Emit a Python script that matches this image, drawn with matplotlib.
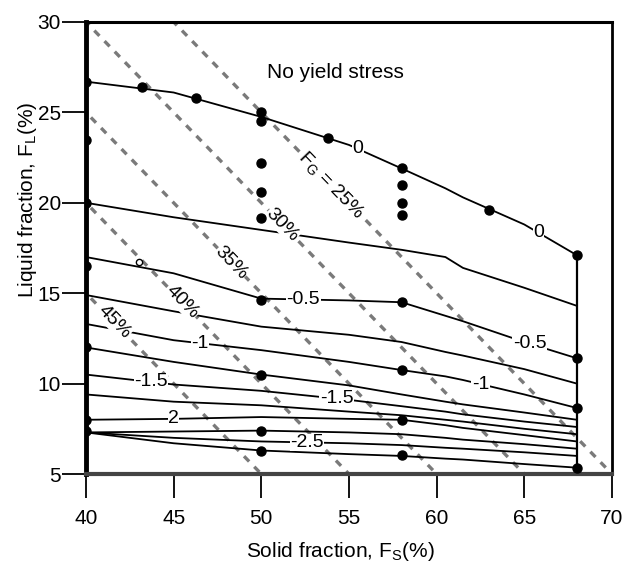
import matplotlib.pyplot as plt
import numpy as np

plt.rcParams['font.family'] = ['Liberation Sans', 'DejaVu Sans']
plt.rcParams['mathtext.fontset'] = 'custom'
plt.rcParams['mathtext.rm'] = 'Liberation Sans'
plt.rcParams['mathtext.it'] = 'Liberation Sans'

# solid fraction breakpoints shared by every iso-stress line
fs_grid = [40, 45, 50, 55, 58, 60.5, 61.5, 65, 68]

# liquid fraction of each iso-line at those breakpoints, top to bottom
fl_lines = [
    [26.7, 26.1, 24.75, 23.2, 21.9, 20.8, 20.3, 18.8, 17.1],   # 0
    [20.0, 19.2, 18.5, 17.8, 17.4, 17.0, 16.4, 15.3, 14.3],
    [17.0, 16.1, 14.7, 14.6, 14.5, 13.75, 13.45, 12.3, 11.4],  # -0.5
    [14.9, 14.0, 13.15, 12.7, 12.3, 11.75, 11.55, 10.8, 10.0],
    [13.3, 12.4, 11.85, 11.2, 10.75, 10.4, 10.2, 9.4, 8.65],   # -1
    [12.0, 11.2, 10.5, 9.9, 9.4, 9.0, 8.85, 8.4, 8.0],
    [10.5, 9.95, 9.6, 9.1, 8.75, 8.45, 8.3, 7.9, 7.6],         # -1.5
    [9.4, 9.0, 8.8, 8.45, 8.25, 8.0, 7.9, 7.5, 7.2],
    [8.0, 8.05, 8.15, 8.05, 8.0, 7.7, 7.55, 7.15, 6.8],        # -2
    [7.3, 7.35, 7.4, 7.3, 7.2, 7.0, 6.9, 6.65, 6.4],
    [7.3, 7.0, 6.8, 6.7, 6.6, 6.45, 6.4, 6.2, 6.0],            # -2.5
    [7.3, 6.7, 6.3, 6.1, 6.0, 5.85, 5.8, 5.55, 5.35],
]

# inline labels: text, line index, solid fraction where it sits
label_text = ['0', '0', '-0.5', '-0.5', '-1', '-1', '-1.5', '-1.5', '2', '-2.5']
label_line = [0, 0, 2, 2, 4, 4, 6, 6, 8, 10]
label_fs = [55.5, 65.8, 52.4, 65.3, 46.5, 62.5, 43.7, 54.3, 45.0, 52.6]

# measured mixes
dot_fs = [40, 40, 40, 40, 40, 40, 40,
          43.2, 46.3,
          50, 50, 50, 50, 50, 50, 50, 50, 50,
          53.8,
          58, 58, 58, 58, 58, 58, 58, 58,
          63,
          68, 68, 68, 68]
dot_fl = [26.7, 23.5, 20.0, 16.5, 12.0, 8.0, 7.4,
          26.4, 25.8,
          25.0, 24.5, 22.2, 20.6, 19.15, 14.6, 10.5, 7.4, 6.3,
          23.6,
          21.9, 21.0, 20.0, 19.3, 14.5, 10.75, 8.0, 6.05,
          19.6,
          17.1, 11.4, 8.65, 5.35]

# constant gas fraction lines, F_G = 100 - F_S - F_L
fg_values = [25, 30, 35, 40, 45]
fg_text = ['F$_\\mathrm{G}$ = 25%', '30%', '35%', '40%', '45%']
fg_label_fs = [54.0, 51.2, 48.3, 45.5, 41.6]

fig = plt.figure(figsize=(6.23, 5.77), dpi=100)
ax = fig.add_axes([0.138, 0.1785, 0.8443, 0.7834])

fs_span = np.array([35, 75])
for fg in fg_values:
    ax.plot(fs_span, 100 - fg - fs_span, ls=(0, (2.2, 2.2)), color='#7a7a7a',
            lw=2.4, zorder=1)

for fl in fl_lines:
    ax.plot(fs_grid, fl, color='black', lw=1.3, zorder=2)

# right-hand limit of the mapped domain
ax.plot([fs_grid[-1], fs_grid[-1]], [5, fl_lines[0][-1]], color='black',
        lw=1.6, zorder=2)

ax.plot(dot_fs, dot_fl, 'o', color='black', ms=6.5, zorder=4)
ax.plot([43.0], [16.7], 'o', mfc='white', mec='black', ms=4.5, mew=1.0,
        zorder=4)

for txt, li, x in zip(label_text, label_line, label_fs):
    y = np.interp(x, fs_grid, fl_lines[li])
    ax.text(x, y, txt, fontsize=14, ha='center', va='center', zorder=5,
            bbox=dict(facecolor='white', edgecolor='none', pad=0.3))

for fg, txt, x in zip(fg_values, fg_text, fg_label_fs):
    ax.text(x, 100 - fg - x, txt, fontsize=14, ha='center', va='center',
            rotation=-46, rotation_mode='anchor', zorder=3,
            bbox=dict(facecolor='white', edgecolor='none', pad=0.2))

ax.text(54.2, 27.2, 'No yield stress', fontsize=15, ha='center', va='center')

ax.set_xlim(40, 70)
ax.set_ylim(5, 30)
ax.set_xticks(range(40, 71, 5))
ax.set_yticks(range(5, 31, 5))
ax.tick_params(direction='out', length=17, width=1.3, labelsize=15)
ax.tick_params(axis='x', pad=8)
ax.tick_params(axis='y', pad=1)

ax.spines['left'].set_linewidth(3.5)
ax.spines['bottom'].set_linewidth(3.0)
ax.spines['bottom'].set_color('#444444')
ax.spines['top'].set_linewidth(2.2)
ax.spines['right'].set_linewidth(2.0)

ax.set_xlabel('Solid fraction, F$_\\mathrm{S}$(%)', fontsize=15)
ax.set_ylabel('Liquid fraction, F$_\\mathrm{L}$(%)', fontsize=15)
ax.xaxis.set_label_coords(0.483, -0.145)
ax.yaxis.set_label_coords(-0.09, 0.606)

fig.savefig('out.png', dpi=100)
